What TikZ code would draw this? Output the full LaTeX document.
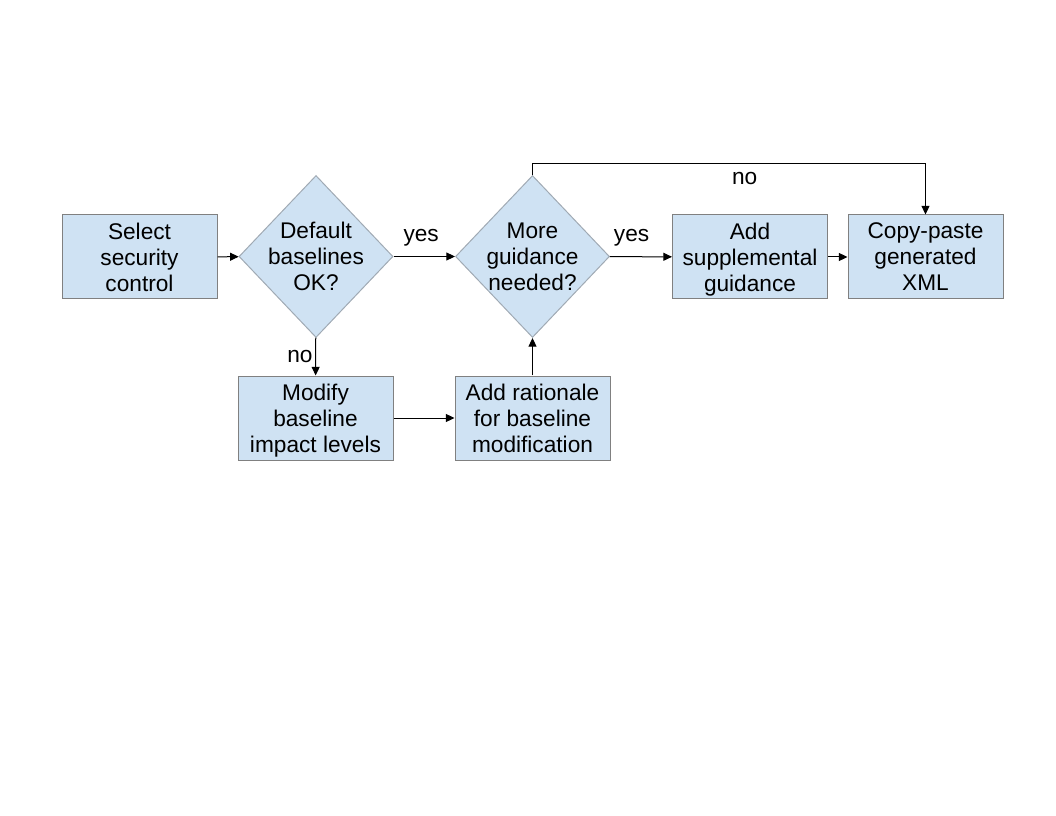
\documentclass[tikz,border=0pt]{standalone}
\usepackage{fontspec}
\setmainfont{Liberation Sans}
\usetikzlibrary{shapes.geometric, arrows.meta}
\definecolor{boxfill}{RGB}{207,226,243}
\definecolor{boxline}{RGB}{128,128,128}
\definecolor{diamline}{RGB}{160,170,180}
\tikzset{
  stepbox/.style={rectangle, draw=boxline, fill=boxfill, align=center,
    minimum width=116.25pt, minimum height=63pt, inner sep=1pt,
    font=\fontsize{17}{19.5}\selectfont, text depth=0pt},
  decide/.style={diamond, draw=diamline, fill=boxfill, align=center,
    inner sep=-3pt, minimum width=115.5pt, minimum height=121.5pt,
    font=\fontsize{17}{19.5}\selectfont},
  lbl/.style={font=\fontsize{17}{19.5}\selectfont, inner sep=2pt}
}

\begin{document}
\begin{tikzpicture}[x=0.75pt,y=-0.75pt,>={Triangle[length=6.5pt,width=6pt]},
  line width=0.75pt]
\useasboundingbox (0,0) rectangle (1056,816);
% top row
\node[stepbox] (sel)  at (139.5,257) {Select\\security\\control};
\node[decide]  (dflt) at (316,256.5) {Default\\baselines\\OK?};
\node[decide]  (more) at (532.5,256.5) {More\\guidance\\needed?};
\node[stepbox] (supp) at (750,257) {Add\\supplemental\\guidance};
\node[stepbox] (copy) at (925.5,257) {Copy-paste\\generated\\XML};
% bottom row
\node[stepbox] (mod)  at (315.5,418) {Modify\\baseline\\impact levels};
\node[stepbox] (rat)  at (532.5,418) {Add rationale\\for baseline\\modification};
\coordinate (loop) at (532.5,164);

\draw[->] (sel) edge (dflt)
          (dflt) edge node[lbl,above=5.5pt,pos=0.45] {yes} (more)
          (more) edge node[lbl,above=5.5pt,pos=0.35] {yes} (supp)
          (supp) edge (copy)
          (dflt) edge node[lbl,left,pos=0.5] {no} (mod)
          (mod) edge (rat)
          (rat) edge (more)
;
\draw[->] (more.north) -- (loop) -| node[lbl,below=4pt,pos=0.27] {no} (copy.north);
\end{tikzpicture}
\end{document}
